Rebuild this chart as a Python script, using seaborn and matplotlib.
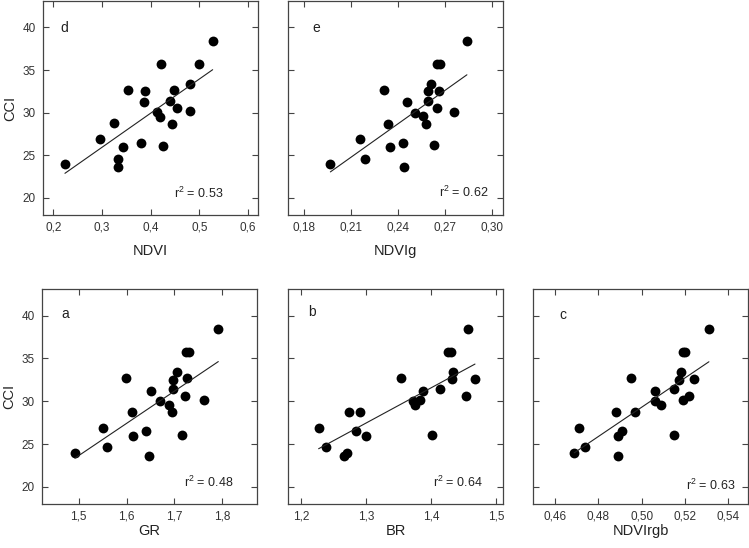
import matplotlib
matplotlib.use('Agg')
import matplotlib.pyplot as plt
import seaborn as sns

# CCI vs spectral indices, one pair of lists per panel
ndvi = [0.224, 0.296, 0.324, 0.333, 0.333, 0.344, 0.354, 0.381, 0.386, 0.389, 0.412,
        0.419, 0.421, 0.426, 0.439, 0.443, 0.448, 0.454, 0.481, 0.480, 0.499, 0.527]
cci_ndvi = [24.0, 26.9, 28.8, 24.6, 23.6, 26.0, 32.7, 26.5, 31.2, 32.6, 30.1,
            29.5, 35.7, 26.1, 31.4, 28.7, 32.7, 30.6, 33.4, 30.2, 35.7, 38.4]

ndvig = [0.197, 0.216, 0.219, 0.231, 0.234, 0.235, 0.243, 0.244, 0.246, 0.251, 0.256,
         0.258, 0.259, 0.259, 0.261, 0.263, 0.265, 0.265, 0.266, 0.267, 0.276, 0.284]
cci_ndvig = [24.0, 26.9, 24.6, 32.7, 28.7, 26.0, 26.5, 23.6, 31.2, 30.0, 29.6,
             28.7, 31.4, 32.6, 33.4, 26.2, 30.6, 35.7, 32.6, 35.7, 30.1, 38.4]

gr = [1.492, 1.550, 1.559, 1.599, 1.611, 1.613, 1.640, 1.647, 1.652, 1.669, 1.688,
      1.695, 1.698, 1.698, 1.705, 1.716, 1.722, 1.724, 1.727, 1.730, 1.762, 1.792]
cci_gr = [24.0, 26.9, 24.6, 32.7, 28.7, 25.9, 26.5, 23.6, 31.2, 30.0, 29.6,
          28.7, 31.4, 32.5, 33.4, 26.1, 30.6, 35.7, 32.7, 35.7, 30.1, 38.4]

br = [1.227, 1.238, 1.266, 1.271, 1.273, 1.284, 1.291, 1.299, 1.354, 1.372, 1.375,
      1.382, 1.387, 1.401, 1.413, 1.426, 1.430, 1.431, 1.434, 1.453, 1.457, 1.467]
cci_br = [26.9, 24.6, 23.6, 24.0, 28.7, 26.5, 28.7, 25.9, 32.7, 30.0, 29.5,
          30.1, 31.2, 26.1, 31.4, 35.7, 35.7, 32.6, 33.4, 30.6, 38.4, 32.6]

ndvirgb = [0.469, 0.471, 0.474, 0.488, 0.489, 0.489, 0.491, 0.495, 0.497, 0.506, 0.506,
           0.509, 0.515, 0.515, 0.517, 0.518, 0.519, 0.519, 0.520, 0.522, 0.524, 0.531]
cci_ndvirgb = [24.0, 26.9, 24.6, 28.7, 25.9, 23.6, 26.5, 32.7, 28.7, 30.0, 31.2,
               29.5, 31.4, 26.1, 32.5, 33.4, 30.1, 35.7, 35.7, 30.6, 32.6, 38.4]

r2_values = ['0.53', '0.62', '0.48', '0.64', '0.63']
panel_letters = ['d', 'e', 'a', 'b', 'c']
x_names = ['NDVI', 'NDVIg', 'GR', 'BR', 'NDVIrgb']

x_ticks = [[0.2, 0.3, 0.4, 0.5, 0.6],
           [0.18, 0.21, 0.24, 0.27, 0.30],
           [1.5, 1.6, 1.7, 1.8],
           [1.2, 1.3, 1.4, 1.5],
           [0.46, 0.48, 0.50, 0.52, 0.54]]
x_tick_labels = [['0,2', '0,3', '0,4', '0,5', '0,6'],
                 ['0,18', '0,21', '0,24', '0,27', '0,30'],
                 ['1,5', '1,6', '1,7', '1,8'],
                 ['1,2', '1,3', '1,4', '1,5'],
                 ['0,46', '0,48', '0,50', '0,52', '0,54']]
y_ticks = [20, 25, 30, 35, 40]

sns.set_style('ticks')
plt.rcParams['font.family'] = ['Liberation Sans', 'DejaVu Sans']
plt.rcParams['mathtext.default'] = 'regular'

fig = plt.figure(figsize=(7.49, 5.48), dpi=100)

W, H = 749, 548
# axes boxes in pixels: left, top, width, height
boxes = [(43, 1, 215, 214), (288, 1, 215, 214),
         (42, 289, 215, 215), (288, 289, 215, 215), (533, 289, 215, 215)]
xlims = [(0.179, 0.62), (0.170, 0.307), (1.423, 1.873), (1.18, 1.51), (0.45, 0.549)]
letter_pos = [(0.10, 0.875), (0.13, 0.875), (0.107, 0.884), (0.11, 0.894), (0.138, 0.879)]
r2_pos = [(0.84, 0.10), (0.935, 0.104), (0.89, 0.101), (0.905, 0.101), (0.94, 0.085)]
xlabel_pads = [7, 7, 1, 1, 1]

data = [(ndvi, cci_ndvi), (ndvig, cci_ndvig), (gr, cci_gr), (br, cci_br), (ndvirgb, cci_ndvirgb)]

for i, (xs, ys) in enumerate(data):
    l, t, w, h = boxes[i]
    ax = fig.add_axes([l / W, 1 - (t + h) / H, w / W, h / H])
    sns.regplot(x=xs, y=ys, ax=ax, ci=None, color='black',
                scatter_kws={'s': 50, 'linewidths': 0, 'alpha': 1},
                line_kws={'lw': 0.8, 'color': '#222222'})
    ax.set_xlim(xlims[i])
    ax.set_ylim(18, 43.1)
    ax.set_xticks(x_ticks[i])
    ax.set_xticklabels(x_tick_labels[i])
    ax.set_yticks(y_ticks)
    ax.tick_params(direction='in', length=4.5, width=0.8, top=True, right=True,
                   labelsize=8.5, colors='#444444', labelcolor='#333333', pad=5)
    for sp in ax.spines.values():
        sp.set_linewidth(0.9)
        sp.set_color('#444444')
    ax.set_xlabel(x_names[i], fontsize=10.5, labelpad=xlabel_pads[i], color='#222222')
    if i in (0, 2):
        ax.set_ylabel('CCI', fontsize=10.5, labelpad=4, color='#222222')
    else:
        ax.set_yticklabels([])
    ax.text(*letter_pos[i], panel_letters[i], transform=ax.transAxes,
            fontsize=10, ha='center', va='center', color='#222222')
    ax.text(*r2_pos[i], r'r$^2$ = ' + r2_values[i], transform=ax.transAxes,
            fontsize=9, ha='right', va='center', color='#222222')

fig.savefig('out.png', dpi=100)
